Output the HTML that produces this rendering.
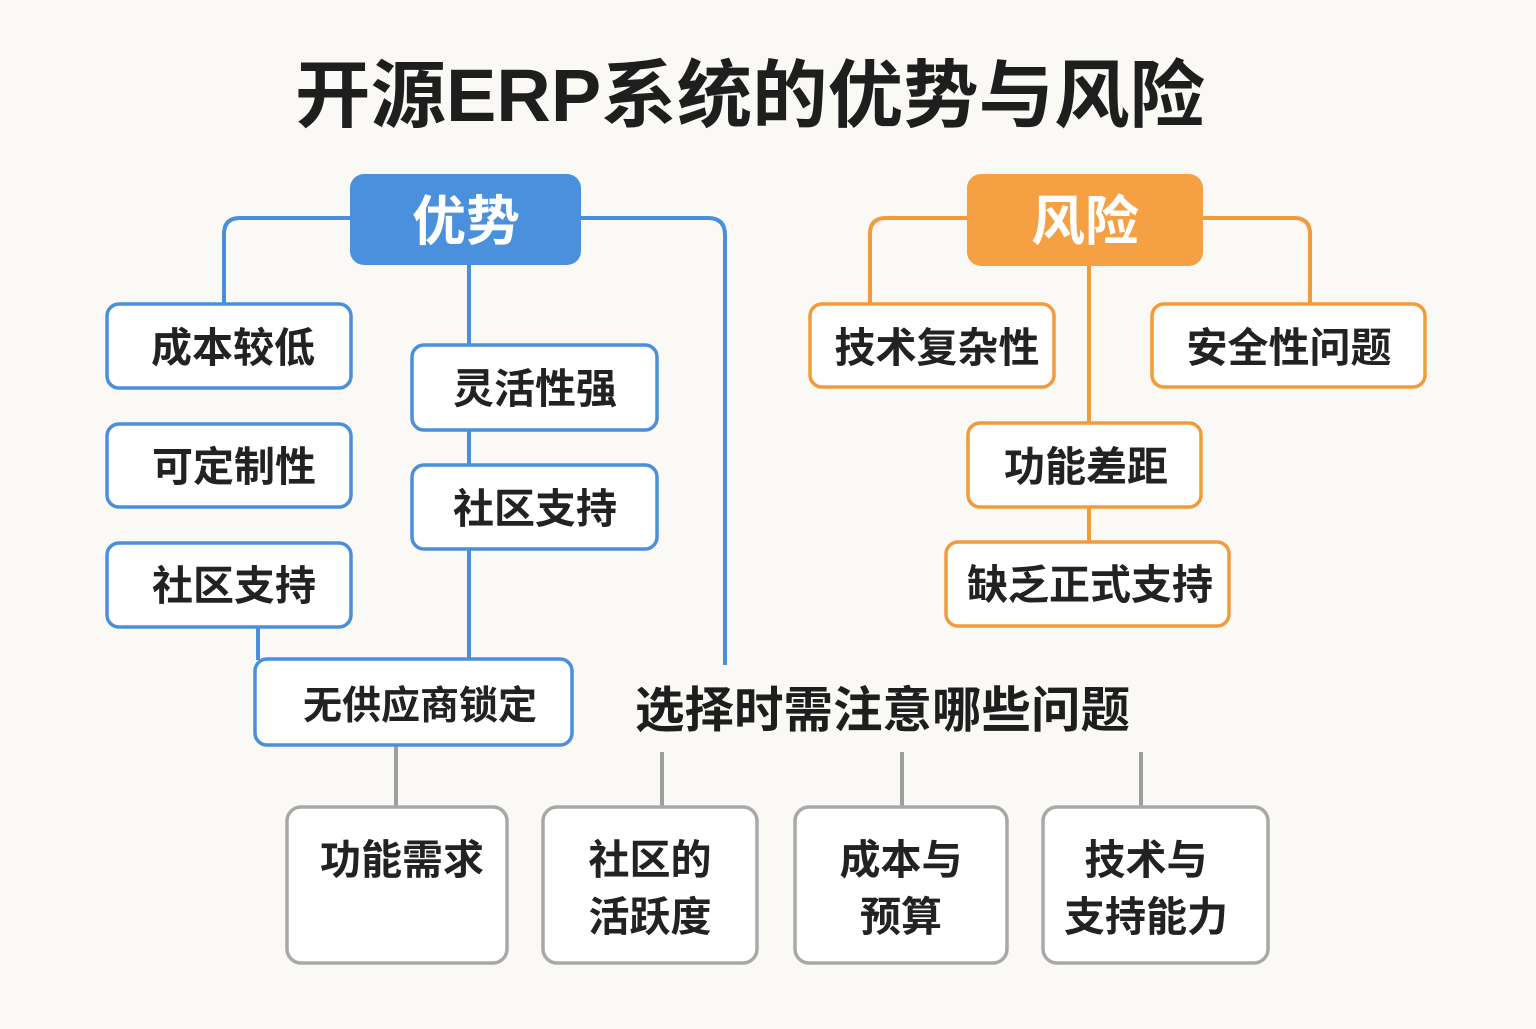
<!DOCTYPE html>
<html><head><meta charset="utf-8"><style>
html,body{margin:0;padding:0;background:#faf9f5;}
svg text{font-family:"Liberation Sans","Noto Sans CJK SC",sans-serif;}
</style></head><body>
<svg width="1536" height="1024" viewBox="0 0 1536 1024" xmlns="http://www.w3.org/2000/svg">
<rect width="1536" height="1024" fill="#faf9f5"/>
<text x="295" y="121" font-size="74" font-weight="700" fill="#1e1e1e" textLength="910" lengthAdjust="spacingAndGlyphs">开源ERP系统的优势与风险</text>

<g fill="none" stroke="#4a8fdc" stroke-width="4">
<path d="M352 218 H240 Q224 218 224 234 V305"/>
<path d="M580 218 H708 Q725 218 725 235 V665"/>
<path d="M469 265 V660"/>
<path d="M258 627 V660"/>
</g>
<g fill="none" stroke="#f39a3b" stroke-width="4">
<path d="M968 218 H886 Q870 218 870 234 V305"/>
<path d="M1202 218 H1294 Q1310 218 1310 234 V305"/>
<path d="M1089 266 V542"/>
</g>
<g fill="none" stroke="#9e9e9e" stroke-width="4">
<path d="M396 745 V806"/><path d="M662 752 V806"/><path d="M902 752 V806"/><path d="M1141 752 V806"/>
</g>

<rect x="350" y="174" width="231" height="91" rx="14" fill="#4a90dc"/>
<text x="466" y="240" text-anchor="middle" font-size="54" font-weight="700" fill="#fff">优势</text>
<rect x="967" y="174" width="236" height="92" rx="14" fill="#f5a043"/>
<text x="1085" y="240" text-anchor="middle" font-size="54" font-weight="700" fill="#fff">风险</text>

<g fill="#fff" stroke="#4a8fdc" stroke-width="3.5">
<rect x="107" y="304" width="244" height="84" rx="12"/>
<rect x="412" y="345" width="245" height="85" rx="12"/>
<rect x="107" y="424" width="244" height="83" rx="12"/>
<rect x="412" y="465" width="245" height="84" rx="12"/>
<rect x="107" y="543" width="244" height="84" rx="12"/>
<rect x="255" y="659" width="317" height="86" rx="12"/>
</g>
<g fill="#fff" stroke="#f39a3b" stroke-width="3.5">
<rect x="810" y="304" width="244" height="83" rx="12"/>
<rect x="1152" y="304" width="273" height="83" rx="12"/>
<rect x="968" y="423" width="233" height="84" rx="12"/>
<rect x="946" y="542" width="283" height="84" rx="12"/>
</g>
<g fill="#fff" stroke="#a8a8a8" stroke-width="3.5">
<rect x="287" y="807" width="220" height="156" rx="14"/>
<rect x="543" y="807" width="214" height="156" rx="14"/>
<rect x="795" y="807" width="212" height="156" rx="14"/>
<rect x="1043" y="807" width="225" height="156" rx="14"/>
</g>

<g font-size="41" font-weight="600" fill="#222" text-anchor="middle">
<text x="233" y="362">成本较低</text>
<text x="535" y="403">灵活性强</text>
<text x="234" y="481">可定制性</text>
<text x="535" y="523">社区支持</text>
<text x="234" y="600">社区支持</text>
<text x="420" y="719" font-size="39">无供应商锁定</text>
<text x="937" y="362">技术复杂性</text>
<text x="1289" y="362">安全性问题</text>
<text x="1086" y="481">功能差距</text>
<text x="1090" y="599">缺乏正式支持</text>
<text x="402" y="874">功能需求</text>
<text x="650" y="874">社区的</text>
<text x="650" y="931">活跃度</text>
<text x="901" y="874">成本与</text>
<text x="901" y="931">预算</text>
<text x="1146" y="874">技术与</text>
<text x="1146" y="931">支持能力</text>
</g>
<text x="635" y="727" font-size="49" font-weight="600" fill="#1e1e1e" textLength="495" lengthAdjust="spacingAndGlyphs">选择时需注意哪些问题</text>
</svg>
</body></html>
